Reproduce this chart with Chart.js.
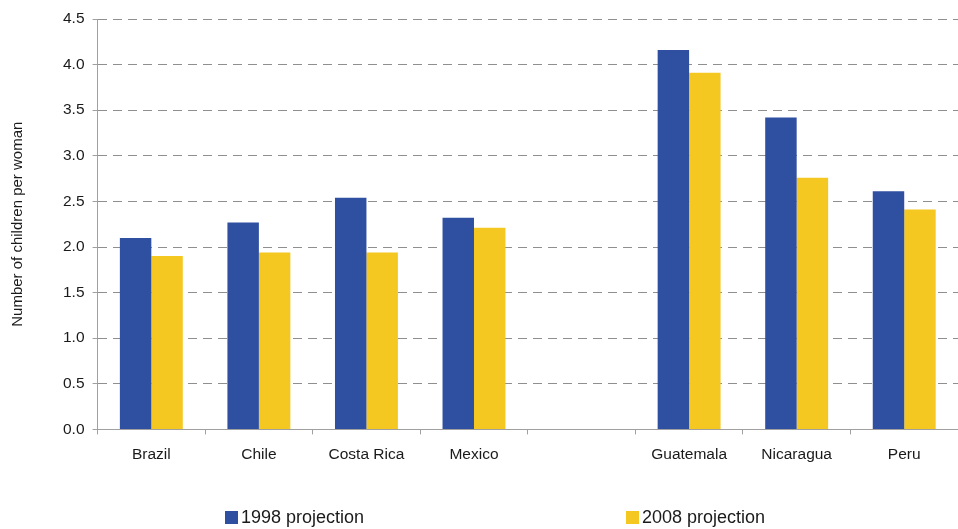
<!DOCTYPE html>
<html>
<head>
<meta charset="utf-8">
<script src="https://cdn.jsdelivr.net/npm/chart.js@4/dist/chart.umd.min.js"></script>
<style>
    html, body { margin: 0; padding: 0; background: #fff; }
    #wrap { position: relative; width: 958px; height: 529px; }
    #legend { position: absolute; left: 0; top: 507px; width: 958px; height: 22px;
              font-family: "Liberation Sans", Arial, sans-serif; font-size: 18px; color: #1a1a1a; }
    .item { position: absolute; top: 0; white-space: nowrap; line-height: 20px; }
    .swatch { display: inline-block; width: 13px; height: 13px; margin-right: 3px; vertical-align: -1px; }
</style>
</head>
<body>
<div id="wrap">
    <canvas id="chart" width="958" height="529"></canvas>
    <div id="legend"></div>
</div>
<script>
// Fertility projections, children per woman
const countries = ['Brazil', 'Chile', 'Costa Rica', 'Mexico', '', 'Guatemala', 'Nicaragua', 'Peru'];
const proj1998 = [2.10, 2.27, 2.54, 2.32, null, 4.16, 3.42, 2.61];
const proj2008 = [1.90, 1.94, 1.94, 2.21, null, 3.91, 2.76, 2.41];
const seriesNames = ['1998 projection', '2008 projection'];
const yTicks = [0, 0.5, 1, 1.5, 2, 2.5, 3, 3.5, 4, 4.5];

const BLUE = '#2f4fa1';
const YELLOW = '#f5c721';
const FONT = '"Liberation Sans", Arial, sans-serif';

Chart.defaults.font.family = FONT;
Chart.defaults.color = '#1a1a1a';

const chart = new Chart(document.getElementById('chart'), {
    type: 'bar',
    data: {
        labels: countries,
        datasets: [{
            label: seriesNames[0],
            data: proj1998,
            backgroundColor: BLUE
        }, {
            label: seriesNames[1],
            data: proj2008,
            backgroundColor: YELLOW
        }]
    },
    options: {
        responsive: false,
        animation: false,
        layout: { padding: { top: 19, right: 0, bottom: 54, left: 0 } },
        datasets: {
            bar: { categoryPercentage: 0.585, barPercentage: 1.0 }
        },
        plugins: {
            legend: { display: false },
            tooltip: { enabled: false }
        },
        scales: {
            x: {
                offset: true,
                grid: {
                    offset: true,
                    drawOnChartArea: false,
                    drawTicks: true,
                    tickLength: 5,
                    tickColor: '#a0a0a0'
                },
                border: { color: '#a0a0a0', width: 1 },
                ticks: {
                    font: { size: 15.5 },
                    padding: 11,
                    maxRotation: 0,
                    autoSkip: false
                }
            },
            y: {
                min: 0,
                max: 4.5,
                afterBuildTicks: axis => { axis.ticks = yTicks.map(v => ({ value: v })); },
                grid: {
                    color: '#8f8f8f',
                    lineWidth: 1,
                    tickLength: 5,
                    tickColor: '#a0a0a0',
                    tickBorderDash: []
                },
                // in v4 border.dash dashes the grid lines, the axis line stays solid
                border: { color: '#a0a0a0', width: 1, dash: [9, 6] },
                ticks: {
                    font: { size: 15.5 },
                    padding: 8,
                    callback: v => Number(v).toFixed(1)
                },
                title: {
                    display: true,
                    text: 'Number of children per woman',
                    font: { size: 15 },
                    padding: { top: 9, bottom: 28 }
                }
            }
        }
    }
});

// Legend built from the datasets
const legend = document.getElementById('legend');
const legendX = [225, 626];
chart.data.datasets.forEach((ds, i) => {
    const item = document.createElement('div');
    item.className = 'item';
    item.style.left = legendX[i] + 'px';
    item.innerHTML = '<span class="swatch" style="background:' + ds.backgroundColor + '"></span>' + ds.label;
    legend.appendChild(item);
});
</script>
</body>
</html>
